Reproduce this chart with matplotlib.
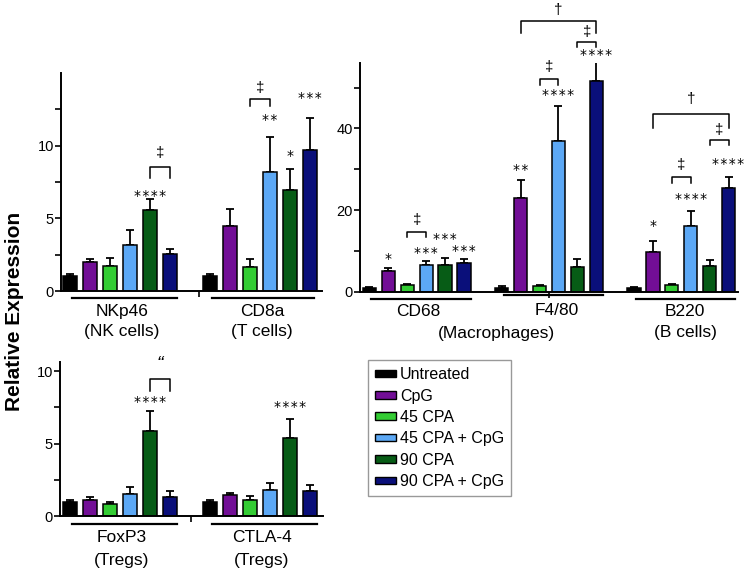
import matplotlib
matplotlib.use("Agg")
import matplotlib.pyplot as plt
import matplotlib.transforms as mtransforms
from matplotlib.patches import Patch

plt.rcParams['font.family'] = ['Liberation Sans', 'DejaVu Sans']

# ---- data -----------------------------------------------------------------
treatments = ['Untreated', 'CpG', '45 CPA', '45 CPA + CpG', '90 CPA', '90 CPA + CpG']
colors = ['#000000', '#720e96', '#33cc33', '#5ca8f5', '#075c16', '#0a0f7a']

nkp46_mean = [1.0, 2.0, 1.7, 3.15, 5.55, 2.55]
nkp46_err = [0.2, 0.2, 0.6, 1.05, 0.75, 0.35]
cd8a_mean = [1.0, 4.45, 1.67, 8.2, 6.93, 9.72]
cd8a_err = [0.15, 1.22, 0.53, 2.4, 1.44, 2.2]

cd68_mean = [1.0, 5.0, 1.6, 6.45, 6.5, 7.0]
cd68_err = [0.2, 0.7, 0.2, 1.15, 1.7, 0.9]
f480_mean = [1.0, 22.9, 1.4, 37.0, 6.1, 51.7]
f480_err = [0.3, 4.4, 0.25, 8.5, 1.8, 4.8]
b220_mean = [1.0, 9.7, 1.6, 16.2, 6.4, 25.4]
b220_err = [0.2, 2.8, 0.4, 3.6, 1.3, 2.6]

foxp3_mean = [1.0, 1.1, 0.8, 1.52, 5.9, 1.34]
foxp3_err = [0.1, 0.23, 0.2, 0.5, 1.33, 0.39]
ctla4_mean = [1.0, 1.43, 1.1, 1.8, 5.37, 1.75]
ctla4_err = [0.1, 0.17, 0.26, 0.46, 1.36, 0.39]

# significance marks: (bar index, y, number of stars)
stars_nk_cd8 = [(4, 6.7, 4), (10, 11.9, 2), (11, 9.4, 1), (12, 13.4, 3)]
stars_mac_b = [(1, 8.6, 1), (3, 10.0, 3), (4, 13.3, 3), (5, 10.4, 3),
               (8, 30.2, 2), (10, 48.7, 4), (12, 58.4, 4),
               (15, 16.6, 1), (17, 23.3, 4), (19, 31.7, 4)]
stars_treg = [(4, 8.0, 4), (11, 7.7, 4)]

# brackets: (bar a, bar b, y top, y legs, symbol, y symbol)
brk_nk_cd8 = [(4, 5, 8.5, 7.8, '‡', 9.5), (9, 10, 13.2, 12.7, '‡', 13.95)]
brk_mac_b = [(2, 3, 14.7, 13.3, '‡', 17.5),
             (9, 10, 52.0, 50.6, '‡', 55.1), (11, 12, 61.2, 59.8, '‡', 63.7),
             (8, 12, 66.4, 63.3, '†', 69.0),
             (16, 17, 28.2, 26.7, '‡', 31.0), (18, 19, 37.1, 35.8, '‡', 39.6),
             (15, 19, 43.5, 40.2, '†', 47.2)]
brk_treg = [(4, 5, 9.45, 8.66, '\u201c', 10.25)]

fig = plt.figure(figsize=(7.49, 5.75), dpi=100)
W, H = 749.0, 575.0


def px_axes(l, t, r, b):
    return fig.add_axes([l / W, 1 - b / H, (r - l) / W, (b - t) / H])


def shift(ax, dy_px, base):
    return base + mtransforms.ScaledTranslation(0, -dy_px / 100.0, fig.dpi_scale_trans)


def draw_groups(ax, means, errs):
    for g, (m, e) in enumerate(zip(means, errs)):
        x = [7 * g + i for i in range(6)]
        ax.bar(x, m, width=0.7, color=colors, edgecolor='black', linewidth=1.1, zorder=2)
        ax.errorbar(x, m, yerr=[[0] * 6, e], fmt='none', ecolor='black',
                    elinewidth=1.3, capsize=2.6, capthick=1.3, zorder=1)


def style(ax, ylim, yticks, ylabels, xlim):
    ax.set_xlim(*xlim)
    ax.set_ylim(*ylim)
    for s in ['top', 'right']:
        ax.spines[s].set_visible(False)
    for s in ['left', 'bottom']:
        ax.spines[s].set_linewidth(1.4)
    ax.set_yticks(yticks)
    ax.set_yticklabels(ylabels, fontsize=10.5)
    ax.tick_params(axis='y', length=4, width=1.2, pad=1)
    ax.tick_params(axis='x', length=4, width=1.2)


def underline(ax, x0, x1, dy, lines, offs):
    tr = ax.get_xaxis_transform()
    ax.plot([x0, x1], [0, 0], color='black', lw=1.6, clip_on=False,
            transform=shift(ax, dy, tr))
    for (txt, xc), off in zip(lines, offs):
        ax.text(xc, 0, txt, ha='center', va='center', fontsize=12.5,
                transform=shift(ax, off, tr))


def marks(ax, stars, brackets):
    for xi, y, n in stars:
        ax.text(xi, y, '\u200a'.join('*' * n), ha='center', va='center', fontsize=10,
                clip_on=False, family='DejaVu Sans', transform=shift(ax, 2, ax.transData))
    for a, b, yt, yl, sym, ys in brackets:
        ax.plot([a, a, b, b], [yl, yt, yt, yl], color='black', lw=1.1, clip_on=False)
        if sym == '\u201c':
            ax.text((a + b) / 2, ys, sym, ha='center', va='center', fontsize=14,
                    style='italic', clip_on=False, transform=shift(ax, -3, ax.transData))
        else:
            ax.text((a + b) / 2, ys, sym, ha='center', va='center', fontsize=11,
                    clip_on=False)


# ---- top left: NK / T cells ----------------------------------------------
ax1 = px_axes(61, 73, 322, 291)
draw_groups(ax1, [nkp46_mean, cd8a_mean], [nkp46_err, cd8a_err])
style(ax1, (0, 15), [0, 2.5, 5, 7.5, 10, 12.5], ['0', '', '5', '', '10', ''], (-0.45, 12.6))
ax1.set_xticks([6.45])
ax1.set_xticklabels([''])
marks(ax1, stars_nk_cd8, brk_nk_cd8)
underline(ax1, 0.1, 5.35, 7, [('NKp46', 2.6), ('(NK cells)', 2.6)], [20, 40])
underline(ax1, 7.1, 12.2, 7, [('CD8a', 9.6), ('(T cells)', 9.6)], [20, 40])

# ---- top right: macrophages / B cells ------------------------------------
ax2 = px_axes(360, 63, 738, 291.7)
draw_groups(ax2, [cd68_mean, f480_mean, b220_mean], [cd68_err, f480_err, b220_err])
style(ax2, (0, 56), [0, 10, 20, 30, 40, 50], ['0', '', '20', '', '40', ''], (-0.5, 19.5))
ax2.set_xticks([9.5])
ax2.set_xticklabels([''])
marks(ax2, stars_mac_b, brk_mac_b)
underline(ax2, 0.1, 5.35, 7, [('CD68', 2.6)], [20])
underline(ax2, 7.1, 12.35, 3, [('F4/80', 9.9)], [19])
underline(ax2, 14.1, 19.35, 7, [('B220', 16.7), ('(B cells)', 16.7)], [20, 41])
ax2.text(6.7, 0, '(Macrophages)', ha='center', va='center', fontsize=12.5,
         transform=shift(ax2, 42, ax2.get_xaxis_transform()))

# ---- bottom left: Tregs ---------------------------------------------------
ax3 = px_axes(60, 362, 323, 516)
draw_groups(ax3, [foxp3_mean, ctla4_mean], [foxp3_err, ctla4_err])
style(ax3, (0, 10.64), [0, 2.5, 5, 7.5, 10], ['0', '', '5', '', '10'], (-0.5, 12.65))
ax3.set_xticks([6.05])
ax3.set_xticklabels([''])
marks(ax3, stars_treg, brk_treg)
underline(ax3, 0.1, 5.35, 8, [('FoxP3', 2.6), ('(Tregs)', 2.6)], [22, 44])
underline(ax3, 7.1, 12.35, 8, [('CTLA-4', 9.6), ('(Tregs)', 9.6)], [22, 44])

fig.text(15 / W, 1 - 311 / H, 'Relative Expression', rotation=90, ha='center',
         va='center', fontsize=15, fontweight='bold')

handles = [Patch(facecolor=c, edgecolor='black', linewidth=1.0) for c in colors]
leg = fig.legend(handles, treatments, loc='upper left',
                 bbox_to_anchor=(368 / W, 1 - 360 / H), fontsize=11.5,
                 frameon=True, fancybox=False, edgecolor='#808080',
                 handlelength=1.3, handleheight=0.35, handletextpad=0.25,
                 labelspacing=0.4, borderpad=0.45, borderaxespad=0)
leg.get_frame().set_linewidth(1.0)

fig.savefig('out.png', dpi=100)
